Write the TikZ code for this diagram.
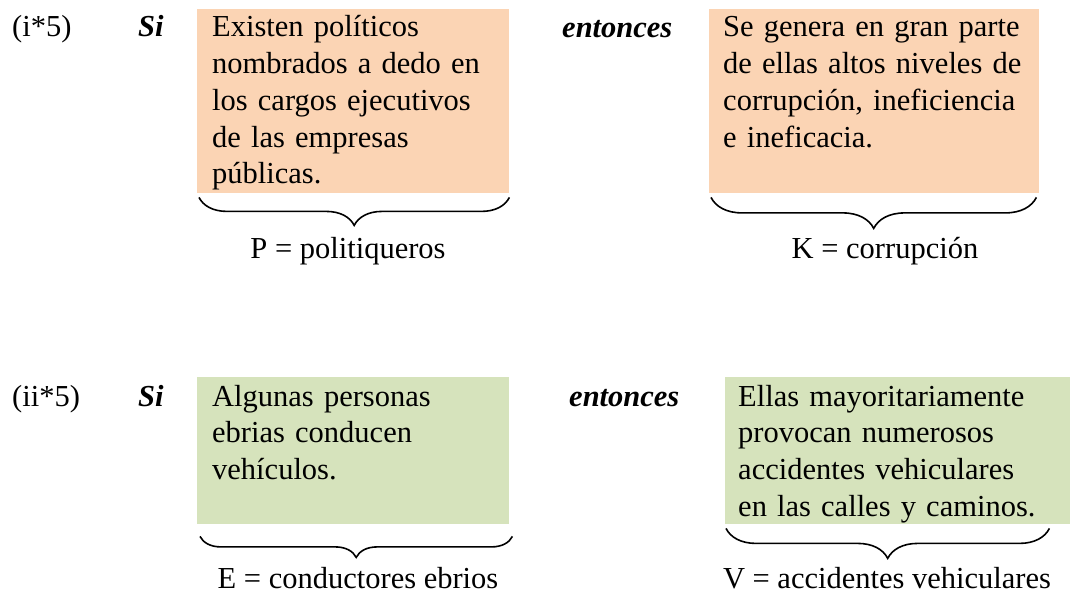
\documentclass[tikz,border=0pt]{standalone}
\usepackage{fontspec}
\setmainfont{Liberation Serif}
\usetikzlibrary{decorations.pathreplacing, positioning}
\definecolor{softorange}{HTML}{FBD4B4}
\definecolor{softgreen}{HTML}{D6E3BC}

\begin{document}
\begin{tikzpicture}[x=1pt,y=-1pt,
  every node/.style={font=\fontsize{30.5}{36.75}\selectfont, inner sep=0},
  panel/.style={fill=#1, anchor=north west},
  para/.style={anchor=base west, text width=300pt, align=left},
  tag/.style={anchor=base west},
  kw/.style={anchor=base west, font=\fontsize{30.5}{36.75}\selectfont\bfseries\itshape},
  curly/.style={decorate, decoration={brace, mirror, amplitude=#1}, line width=1.6pt},
  curly/.default=28pt]
\useasboundingbox (0,0) rectangle (1070,591);

% first implication
\node[tag] (n1) at (12,37) {(i*5)};
\node[kw] (si1) at (138,37) {Si};
\node[panel=softorange, minimum width=312pt, minimum height=184pt] (b1) at (197,9) {};
\node[para] (t1) at (212,37) {Existen políticos\\nombrados a dedo en\\los cargos ejecutivos\\de las empresas\\públicas.};
\node[kw] (en1) at (562,38) {entonces};
\node[panel=softorange, minimum width=330pt, minimum height=184pt] (b2) at (709,9) {};
\node[para] (t2) at (723,37) {Se genera en gran parte\\de ellas altos niveles de\\corrupción, ineficiencia\\e ineficacia.};
\draw[curly] ([xshift=2pt,yshift=-4pt]b1.south west) -- ([yshift=-4pt]b1.south east);
\draw[curly=31pt] ([xshift=2pt,yshift=-4pt]b2.south west) -- ([xshift=-3pt,yshift=-4pt]b2.south east);
\node[anchor=base] (p) at (348,258) {P = politiqueros};
\node[anchor=base] (k) at (885,258) {K = corrupción};

% second implication
\node[tag] (n2) at (12,406) {(ii*5)};
\node[kw] (si2) at (138,406) {Si};
\node[panel=softgreen, minimum width=312pt, minimum height=147pt] (b3) at (197,377) {};
\node[para] (t3) at (212,406) {Algunas personas\\ebrias conducen\\vehículos.};
\node[kw] (en2) at (569,406) {entonces};
\node[panel=softgreen, minimum width=345pt, minimum height=147pt] (b4) at (725,377) {};
\node[para] (t4) at (738,406) {Ellas mayoritariamente\\provocan numerosos\\accidentes vehiculares\\en las calles y caminos.};
\draw[curly=21pt] ([xshift=3pt,yshift=-12pt]b3.south west) -- ([xshift=3pt,yshift=-12pt]b3.south east);
\draw[curly=30pt] ([xshift=1pt,yshift=-4pt]b4.south west) -- ([xshift=-21pt,yshift=-4pt]b4.south east);
\node[anchor=base] (e) at (358,588) {E = conductores ebrios};
\node[anchor=base] (v) at (887,588) {V = accidentes vehiculares};
\end{tikzpicture}
\end{document}
